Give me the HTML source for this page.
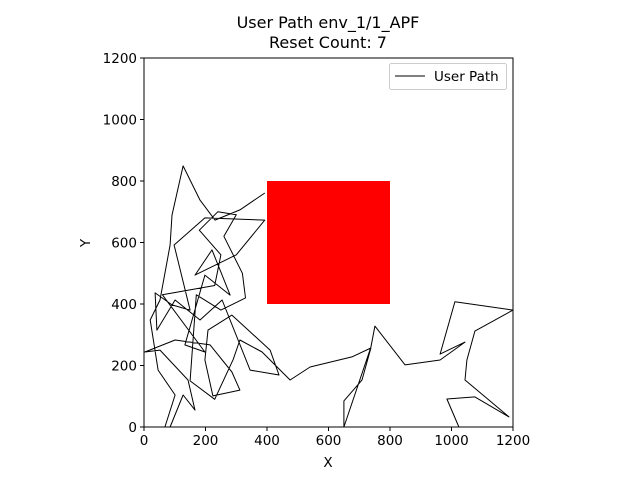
<!DOCTYPE html>
<html><head><meta charset="utf-8"><style>
body{margin:0;background:#fff;}
svg text{font-family:"DejaVu Sans","Liberation Sans",sans-serif;fill:#000;}
</style></head><body>
<svg id="chart" width="640" height="480" xmlns="http://www.w3.org/2000/svg">
<rect width="640" height="480" fill="#fff"/>
<text x="328" y="28" font-size="16" text-anchor="middle">User Path env_1/1_APF</text>
<text x="328" y="48" font-size="16" text-anchor="middle">Reset Count: 7</text>
<g id="plot"></g>
<text x="328" y="467" font-size="13.5" text-anchor="middle">X</text>
<text x="90" y="243" font-size="13.5" text-anchor="middle" transform="rotate(-90 90 243)">Y</text>
</svg>
<script>
const xTicks=[0,200,400,600,800,1000,1200];
const yTicks=[0,200,400,600,800,1000,1200];
const obstacleX=[400,800];
const obstacleY=[400,800];
const pathX=[393,312,231,182,127,91,85,52,20,46,101,68,85,127,166,143,52,3,101,215,286,312,224,198,208,286,410,439,345,254,182,101,42,36,91,150,98,198,393,300,166,221,280,198,133,198,60,230,250,180,240,300,260,320,330,250,170,150,230,290,312,384,475,540,676,738,709,650,650,738,751,849,963,1044,963,1011,1200,1076,1050,1044,1187,1076,985,1024];
const pathY=[761,706,673,738,849,689,592,413,348,185,104,0,0,104,55,153,250,244,283,267,179,120,101,218,315,364,250,169,185,413,348,413,315,436,397,380,592,680,673,560,494,576,429,494,267,244,430,460,560,640,700,690,620,500,420,380,430,150,90,220,283,244,153,195,228,257,153,85,0,260,328,202,218,276,237,407,380,312,218,153,33,98,91,0];
const L=144,R=513,T=58,B=427;
const sx=v=>L+(v-0)/1200*(R-L);
const sy=v=>B-(v-0)/1200*(B-T);
const NS="http://www.w3.org/2000/svg";
const g=document.getElementById('plot');
function mk(t,a){const e=document.createElementNS(NS,t);for(const k in a)e.setAttribute(k,a[k]);g.appendChild(e);return e;}
const ob=mk('rect',{x:sx(obstacleX[0]),y:sy(obstacleY[1]),width:sx(obstacleX[1])-sx(obstacleX[0]),height:sy(obstacleY[0])-sy(obstacleY[1]),fill:'#ff0000'});


let d='';pathX.forEach((x,i)=>{d+=(i?'L':'M')+sx(x).toFixed(1)+' '+sy(pathY[i]).toFixed(1);});
const p=mk('path',{d:d,fill:'none',stroke:'#000','stroke-width':1,'stroke-linejoin':'round'});


const fr=mk('rect',{x:L,y:T,width:R-L,height:B-T,fill:'none',stroke:'#000','stroke-width':1});


xTicks.forEach(v=>{const x=sx(v);
const t=mk('line',{x1:x,x2:x,y1:B,y2:B+4,stroke:'#000'});


const tx=mk('text',{x:x,y:B+18,'font-size':13.5,'text-anchor':'middle'});tx.textContent=v;

});
yTicks.forEach(v=>{const y=sy(v);
const t=mk('line',{x1:L-4,x2:L,y1:y,y2:y,stroke:'#000'});


const tx=mk('text',{x:L-7,y:y+5,'font-size':13.5,'text-anchor':'end'});tx.textContent=v;

});
const lg=mk('rect',{x:389.5,y:63.5,width:117,height:26,fill:'#fff',stroke:'#ccc',rx:2});


const ll=mk('line',{x1:395,x2:425,y1:76,y2:76,stroke:'#000'});


const lt=mk('text',{x:434,y:81,'font-size':13.5});lt.textContent='User Path';


</script>
</body></html>
